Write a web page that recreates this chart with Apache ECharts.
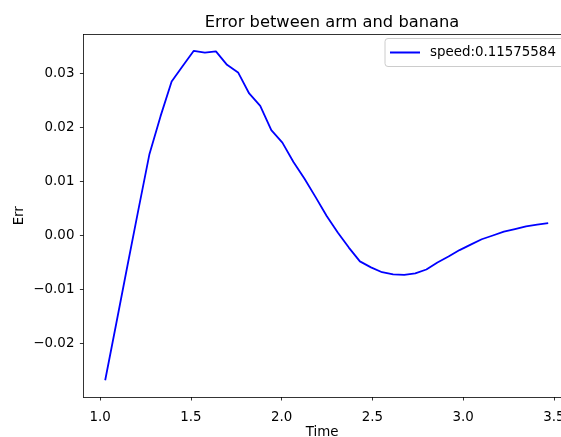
<!DOCTYPE html>
<html>
<head>
<meta charset="utf-8">
<script src="https://cdn.jsdelivr.net/npm/echarts@6/dist/echarts.min.js"></script>
<style>
  html, body { margin: 0; padding: 0; background: #fff; }
  #chart { width: 561px; height: 437px; }
</style>
</head>
<body>
<div id="chart"></div>
<script>
// 数据：时间与误差
const times = [1.028, 1.089, 1.150, 1.211, 1.272, 1.333, 1.394, 1.455, 1.516, 1.577,
  1.638, 1.699, 1.760, 1.821, 1.882, 1.943, 2.004, 2.065, 2.126, 2.187,
  2.248, 2.309, 2.370, 2.431, 2.492, 2.553, 2.614, 2.675, 2.736, 2.797,
  2.858, 2.919, 2.980, 3.041, 3.102, 3.163, 3.224, 3.285, 3.346, 3.407, 3.468];
const errs = [-0.0268, -0.0163, -0.0057, 0.0048, 0.0151, 0.0221, 0.0285, 0.0314, 0.0342, 0.03385,
  0.0341, 0.0316, 0.0302, 0.0263, 0.0240, 0.0195, 0.0172, 0.0136, 0.0105, 0.0071,
  0.0036, 0.00056, -0.00224, -0.0048, -0.0059, -0.0068, -0.0072, -0.0073, -0.0070, -0.0063,
  -0.0050, -0.0039, -0.0027, -0.0017, -0.0007, 0.0000, 0.0007, 0.0012, 0.0017, 0.0020, 0.0023];
const xTicks = [1.0, 1.5, 2.0, 2.5, 3.0, 3.5];
const yTicks = [-0.02, -0.01, 0.00, 0.01, 0.02, 0.03];
const seriesName = 'speed:0.11575584';

const font = 'DejaVu Sans';
const fs = 13.4;
const chart = echarts.init(document.getElementById('chart'));

// 坐标轴线样式（模拟 matplotlib 的黑色边框）
const spine = { show: true, onZero: false, lineStyle: { color: '#000', width: 0.8 } };
const tick = { show: true, length: 3.5, lineStyle: { color: '#000', width: 0.8 } };

const option = {
  backgroundColor: '#fff',
  animation: false,
  title: {
    text: 'Error between arm and banana',
    left: 327,
    top: 10,
    textAlign: 'center',
    textStyle: { fontFamily: font, fontSize: 16.3, fontWeight: 'normal', color: '#000' }
  },
  legend: {
    data: [{ name: seriesName, icon: 'rect' }],
    left: 385,
    top: 38.5,
    orient: 'vertical',
    padding: [7.5, 40, 7.5, 5],
    itemWidth: 30,
    itemHeight: 2,
    backgroundColor: 'rgba(255,255,255,0.8)',
    borderColor: '#cccccc',
    borderWidth: 1,
    borderRadius: 3,
    textStyle: { fontFamily: font, fontSize: fs, color: '#000', padding: [0, 0, 0, 5] }
  },
  grid: {
    left: 83.4,
    top: 34.5,
    right: 0,
    bottom: 40,
    outerBoundsMode: 'none'
  },
  xAxis: [{
    type: 'value',
    min: 0.908,
    max: 3.5386,
    name: 'Time',
    nameLocation: 'middle',
    nameGap: 29,
    nameMoveOverlap: false,
    nameTextStyle: { fontFamily: font, fontSize: fs, color: '#000' },
    axisLine: spine,
    axisTick: { ...tick, customValues: xTicks },
    axisLabel: {
      fontFamily: font, fontSize: fs, color: '#000', margin: 14,
      customValues: xTicks,
      formatter: v => v.toFixed(1)
    },
    splitLine: { show: false }
  }, {
    // 顶部边框
    type: 'value',
    position: 'top',
    min: 0.908,
    max: 3.5386,
    axisLine: spine,
    axisTick: { show: false },
    axisLabel: { show: false },
    splitLine: { show: false }
  }],
  yAxis: {
    type: 'value',
    min: -0.02991,
    max: 0.03722,
    name: 'Err',
    nameLocation: 'middle',
    nameGap: 57,
    nameMoveOverlap: false,
    nameTextStyle: { fontFamily: font, fontSize: fs, color: '#000' },
    axisLine: spine,
    axisTick: { ...tick, customValues: yTicks },
    axisLabel: {
      fontFamily: font, fontSize: fs, color: '#000', margin: 9,
      customValues: yTicks,
      formatter: v => v.toFixed(2).replace('-', '\u2212')
    },
    splitLine: { show: false }
  },
  series: [{
    name: seriesName,
    type: 'line',
    data: times.map((t, i) => [t, errs[i]]),
    symbol: 'none',
    color: '#0000ff',
    lineStyle: { color: '#0000ff', width: 1.8 }
  }]
};

chart.setOption(option);
</script>
</body>
</html>
